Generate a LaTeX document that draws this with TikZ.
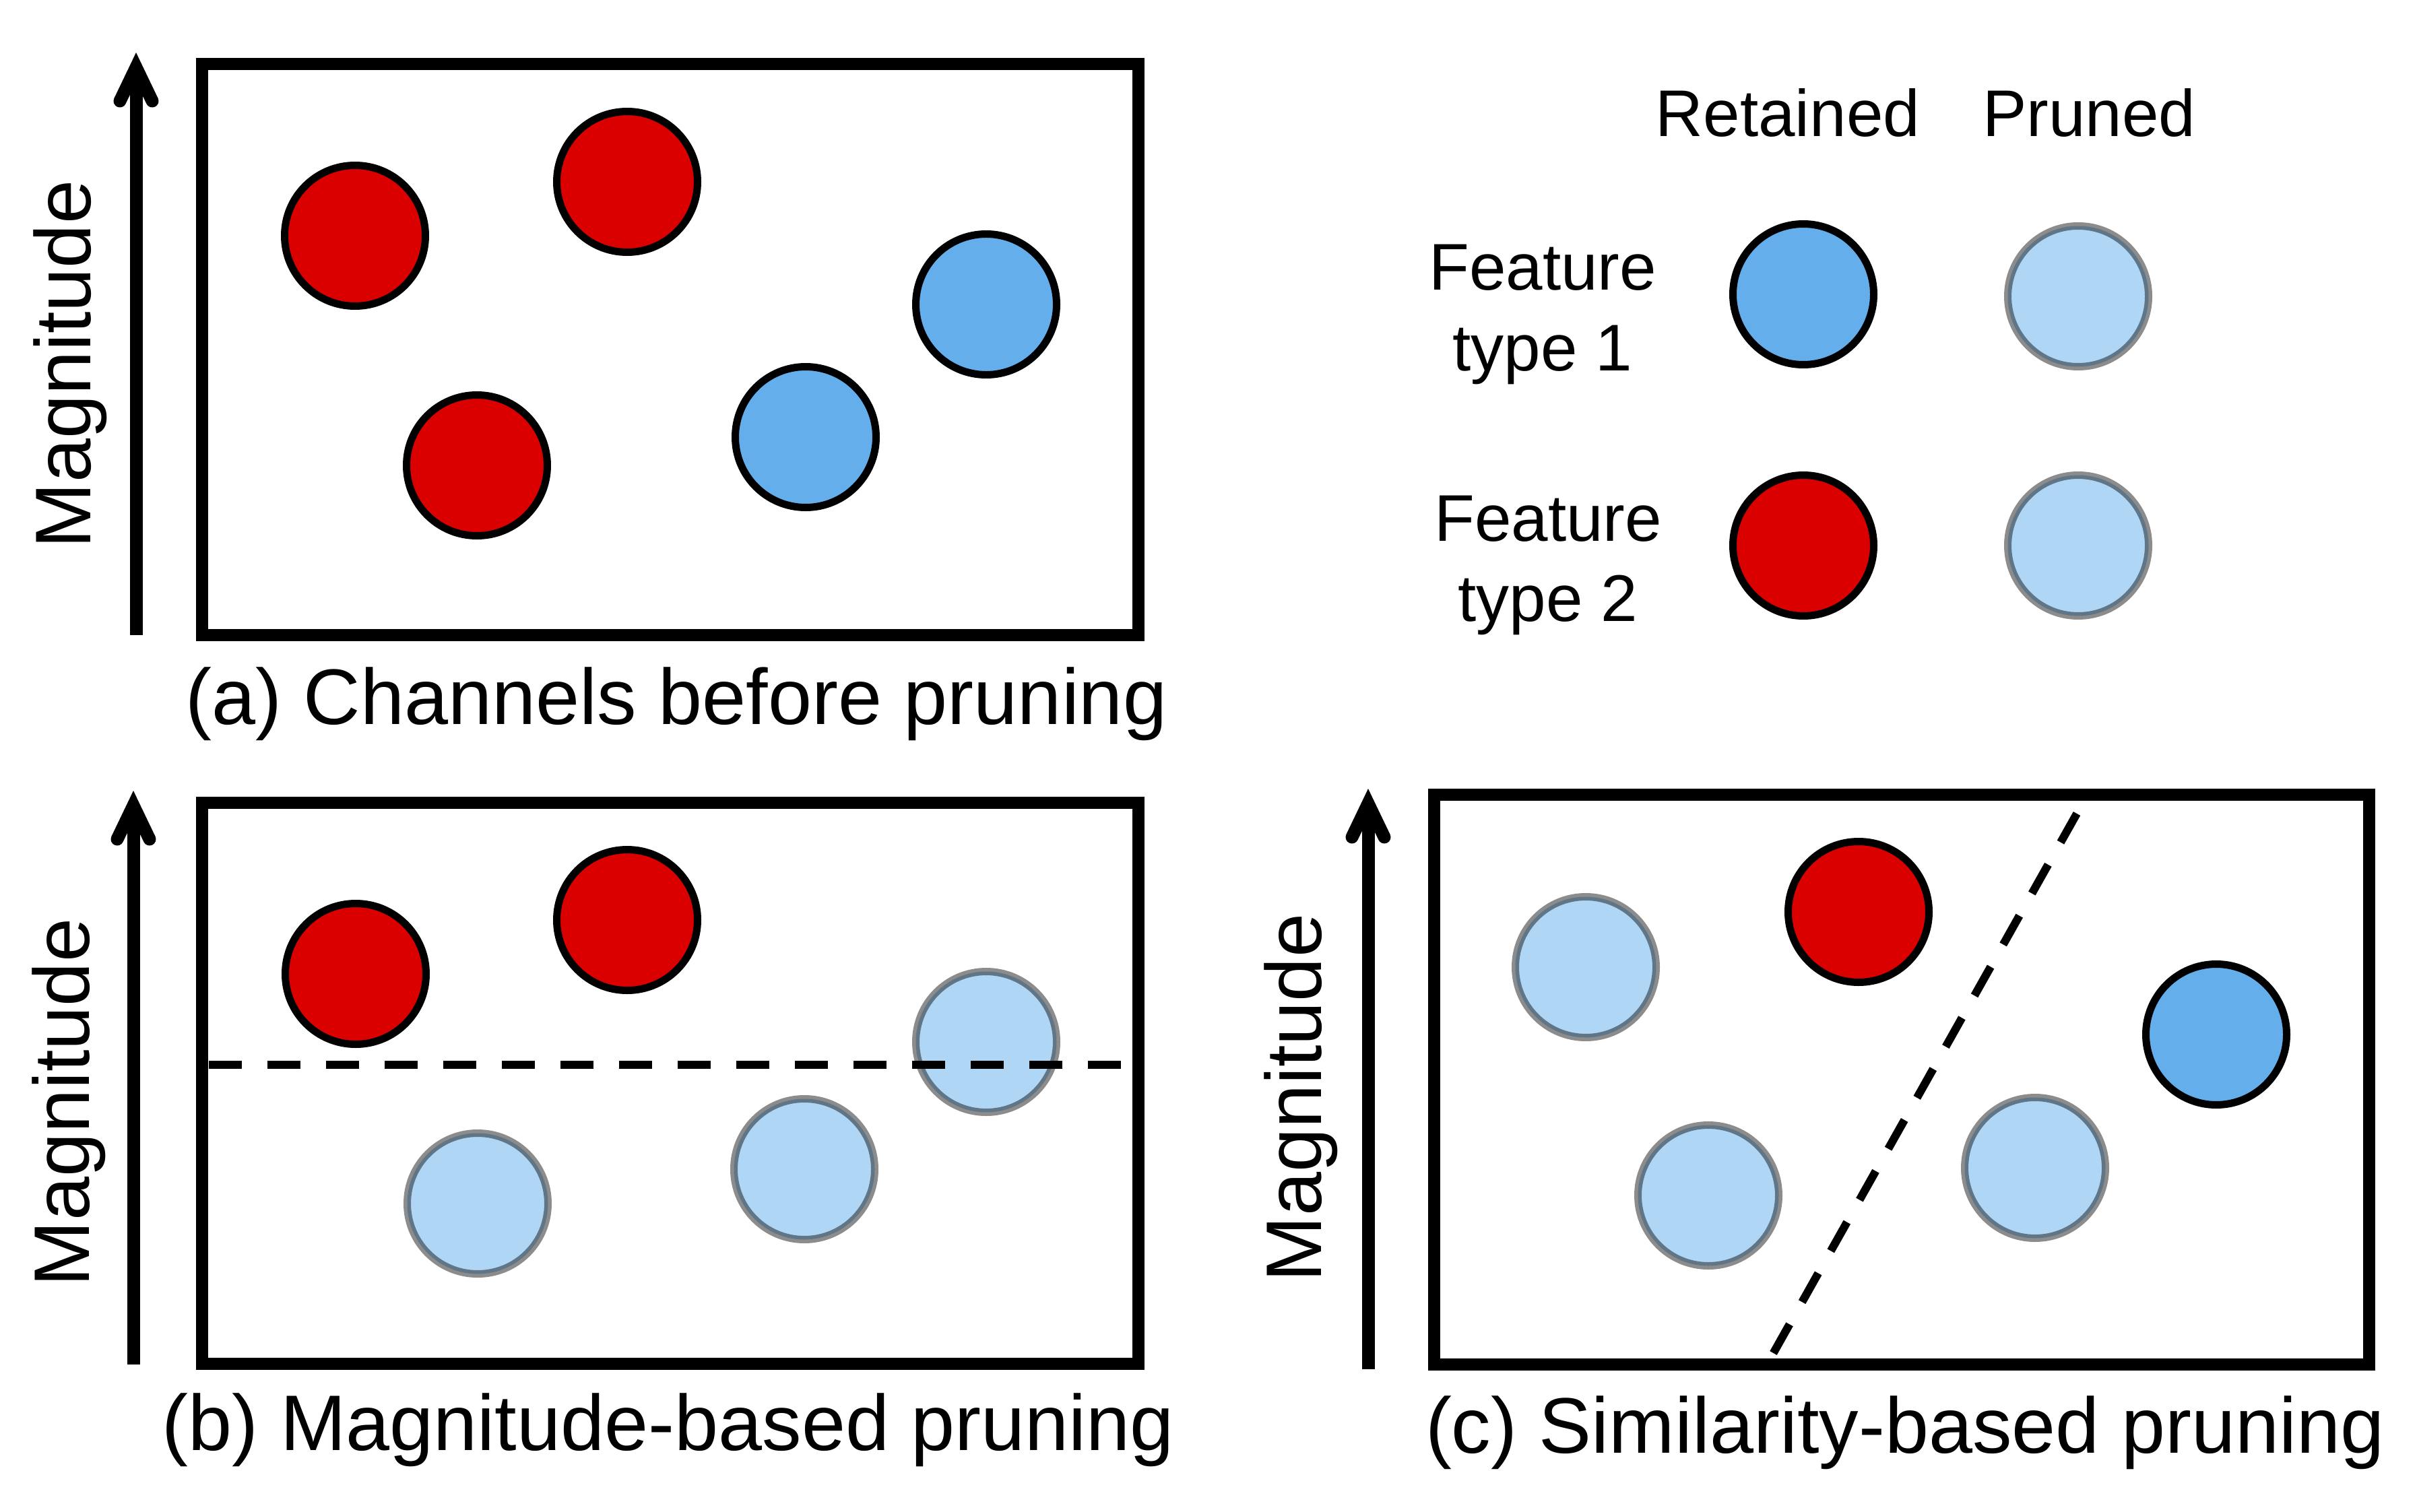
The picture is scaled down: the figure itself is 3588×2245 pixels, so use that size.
\documentclass[tikz,border=0pt]{standalone}
\usepackage{fontspec}
\setmainfont{Liberation Sans}
\definecolor{featred}{RGB}{218,0,0}
\definecolor{featblue}{RGB}{100,174,235}
\definecolor{prunedblue}{RGB}{176,214,245}
\begin{document}
\begin{tikzpicture}[x=1pt,y=-1pt,
  panelbox/.style={draw=black,line width=18pt},
  dot/.style={circle,inner sep=0pt,minimum size=209pt,line width=11pt},
  typeone/.style={dot,fill=featblue,draw=black},
  typetwo/.style={dot,fill=featred,draw=black},
  prunedot/.style={dot,fill=prunedblue,draw=black,draw opacity=0.45},
  axisline/.style={line width=19pt,line cap=butt},
  axishead/.style={line width=19pt,line cap=round,line join=miter},
  cutline/.style={line width=12pt,dash pattern=on 49pt off 38pt},
  captiontext/.style={inner sep=0pt,anchor=base,font=\fontsize{117}{140}\selectfont},
  axistext/.style={inner sep=0pt,anchor=base,rotate=90,font=\fontsize{117}{140}\selectfont},
  legendtext/.style={inner sep=0pt,anchor=base,font=\fontsize{98}{118}\selectfont}]
\useasboundingbox[fill=white] (0,0) rectangle (3588,2245);

% ---------- panel (a) ----------
\coordinate (a-nw) at (300,95);
\coordinate (a-se) at (1690,943);
\draw[panelbox] (a-nw) rectangle (a-se);
\coordinate (a-bot) at (202,943);
\coordinate (a-tip) at (202,100);
\coordinate (a-wl) at (178,150);
\coordinate (a-wr) at (226,150);
\draw[axisline] (a-bot) -- (a-tip);
\draw[axishead] (a-wl) -- (a-tip) -- (a-wr);
\node[axistext] (a-mag) at (134,541) {Magnitude};
\node[typetwo] (a-r1) at (527,350) {};
\node[typetwo] (a-r2) at (931,270) {};
\node[typetwo] (a-r3) at (708,691) {};
\node[typeone] (a-b1) at (1196,649) {};
\node[typeone] (a-b2) at (1464,452) {};
\node[captiontext] (a-cap) at (1004,1075) {(a) Channels before pruning};

% ---------- legend ----------
\node[legendtext] (l-ret) at (2654,203) {Retained};
\node[legendtext] (l-pru) at (3101,203) {Pruned};
\node[legendtext] (l-f1a) at (2290,430) {Feature};
\node[legendtext] (l-f1b) at (2290,550) {type 1};
\node[legendtext] (l-f2a) at (2298,803) {Feature};
\node[legendtext] (l-f2b) at (2298,922) {type 2};
\node[typeone] (l-b) at (2677,437) {};
\node[prunedot] (l-pb) at (3085,440) {};
\node[typetwo] (l-r) at (2677,810) {};
\node[prunedot] (l-pr) at (3085,810) {};

% ---------- panel (b) ----------
\coordinate (b-nw) at (300,1192);
\coordinate (b-se) at (1690,2025);
\draw[panelbox] (b-nw) rectangle (b-se);
\coordinate (b-bot) at (198,2026);
\coordinate (b-tip) at (198,1196);
\coordinate (b-wl) at (174,1246);
\coordinate (b-wr) at (222,1246);
\draw[axisline] (b-bot) -- (b-tip);
\draw[axishead] (b-wl) -- (b-tip) -- (b-wr);
\node[axistext] (b-mag) at (132,1637) {Magnitude};
\node[typetwo] (b-r1) at (528,1446) {};
\node[typetwo] (b-r2) at (931,1366) {};
\node[prunedot] (b-p1) at (709,1787) {};
\node[prunedot] (b-p2) at (1194,1736) {};
\node[prunedot] (b-p3) at (1464,1547) {};
\coordinate (b-cut1) at (310,1581);
\coordinate (b-cut2) at (1665,1581);
\draw[cutline] (b-cut1) -- (b-cut2);
\node[captiontext] (b-cap) at (992,2153) {(b) Magnitude-based pruning};

% ---------- panel (c) ----------
\coordinate (c-nw) at (2129,1180);
\coordinate (c-se) at (3517,2026);
\draw[panelbox] (c-nw) rectangle (c-se);
\coordinate (c-bot) at (2031,2033);
\coordinate (c-tip) at (2031,1193);
\coordinate (c-wl) at (2007,1243);
\coordinate (c-wr) at (2055,1243);
\draw[axisline] (c-bot) -- (c-tip);
\draw[axishead] (c-wl) -- (c-tip) -- (c-wr);
\node[axistext] (c-mag) at (1961,1630) {Magnitude};
\node[prunedot] (c-p1) at (2354,1436) {};
\node[typetwo] (c-r1) at (2759,1354) {};
\node[typeone] (c-b1) at (3290,1536) {};
\node[prunedot] (c-p2) at (2536,1775) {};
\node[prunedot] (c-p3) at (3021,1734) {};
\coordinate (c-cut1) at (3083,1208);
\coordinate (c-cut2) at (2628,2017);
\draw[cutline] (c-cut1) -- (c-cut2);
\node[captiontext] (c-cap) at (2828,2157) {(c) Similarity-based pruning};
\end{tikzpicture}
\end{document}
